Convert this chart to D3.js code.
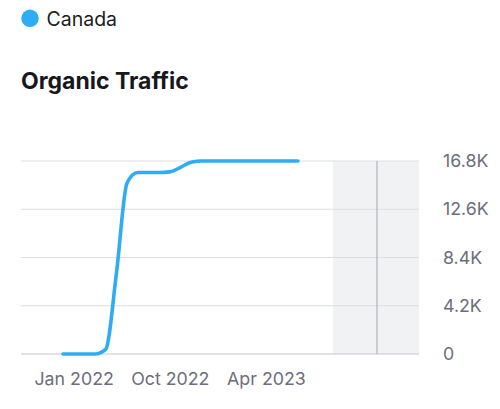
<!DOCTYPE html>
<html>
<head>
<meta charset="utf-8">
<script src="https://cdn.jsdelivr.net/npm/d3@7"></script>
<style>
  html, body { margin: 0; padding: 0; background: #fff; }
  svg { display: block; font-family: Inter, "Noto Sans", sans-serif; }
</style>
</head>
<body>
<svg id="chart" width="500" height="409"></svg>
<script>
// ---- data ----
const seriesName = "Canada";
const chartTitle = "Organic Traffic";
// monthly points (index 0 = first point), values in thousands
const pointIndex = [0,1,2,3,4,5,6,7,8,9,10,11,12,13,14,15,16,17,18,19,20,21,22];
const traffic    = [0,0,0,0,0.4,7.0,14.9,15.8,15.8,15.8,15.85,16.25,16.7,16.8,16.8,16.8,16.8,16.8,16.8,16.8,16.8,16.8,16.8];
const xTickIndex  = [1, 10, 19];
const xTickLabels = ["Jan 2022", "Oct 2022", "Apr 2023"];
const yTickValues = [0, 4.2, 8.4, 12.6, 16.8];
const yTickLabels = ["0", "4.2K", "8.4K", "12.6K", "16.8K"];
const xDomain = [-3.93, 33.33];
const shadeRange = [25.28, 33.33];
const markerIndex = 29.4;

// ---- layout ----
const svg = d3.select("#chart");
const pLeft = 21, pRight = 419, pTop = 161, pBottom = 354;
const x = d3.scaleLinear().domain(xDomain).range([pLeft, pRight]);
const y = d3.scaleLinear().domain([0, 16.8]).range([pBottom, pTop]);
const blue = "#2eacf6";

// legend
const lg = svg.append("g");
lg.append("circle").attr("cx", 30).attr("cy", 18.3).attr("r", 8.7).attr("fill", blue);
lg.append("text").attr("x", 46.5).attr("y", 26).attr("font-size", 19.5)
  .attr("fill", "#1c1d22").text(seriesName);

// title
svg.append("text").attr("x", 21).attr("y", 88.5).attr("font-size", 23)
  .attr("font-weight", 700).attr("fill", "#17181d").text(chartTitle);

// shaded region
svg.append("rect")
  .attr("x", x(shadeRange[0])).attr("y", pTop)
  .attr("width", x(shadeRange[1]) - x(shadeRange[0]))
  .attr("height", pBottom - pTop)
  .attr("fill", "#f1f2f4");

// grid lines
svg.append("g").selectAll("line").data(yTickValues).join("line")
  .attr("x1", pLeft).attr("x2", pRight)
  .attr("y1", d => y(d)).attr("y2", d => y(d))
  .attr("stroke", d => d === 0 ? "#c6c8cf" : "#dcdee3").attr("stroke-width", 1);

// marker line
svg.append("line")
  .attr("x1", x(markerIndex)).attr("x2", x(markerIndex))
  .attr("y1", pTop).attr("y2", pBottom)
  .attr("stroke", "#a3a6b0").attr("stroke-width", 1);

// y axis labels (right side)
const yAxis = d3.axisRight(y).tickValues(yTickValues)
  .tickFormat((d, i) => yTickLabels[i]).tickSize(0).tickPadding(0);
const ya = svg.append("g").attr("transform", `translate(443,0)`).call(yAxis);
ya.select(".domain").remove();
ya.selectAll("text").attr("font-size", 17.8).attr("fill", "#6c6e79")
  .attr("font-family", "Inter, sans-serif");

// x axis labels
const xAxis = d3.axisBottom(x).tickValues(xTickIndex)
  .tickFormat((d, i) => xTickLabels[i]).tickSize(0).tickPadding(0);
const xa = svg.append("g").attr("transform", `translate(0,${pBottom + 18.5})`).call(xAxis);
xa.select(".domain").remove();
xa.selectAll("text").attr("font-size", 17.8).attr("fill", "#6c6e79")
  .attr("font-family", "Inter, sans-serif");

// line
const data = pointIndex.map((d, i) => ({ i: d, v: traffic[i] }));
const line = d3.line().x(d => x(d.i)).y(d => y(d.v)).curve(d3.curveMonotoneX);
svg.append("path").datum(data).attr("d", line)
  .attr("fill", "none").attr("stroke", blue).attr("stroke-width", 3.6)
  .attr("stroke-linecap", "round").attr("stroke-linejoin", "round");
</script>
</body>
</html>
